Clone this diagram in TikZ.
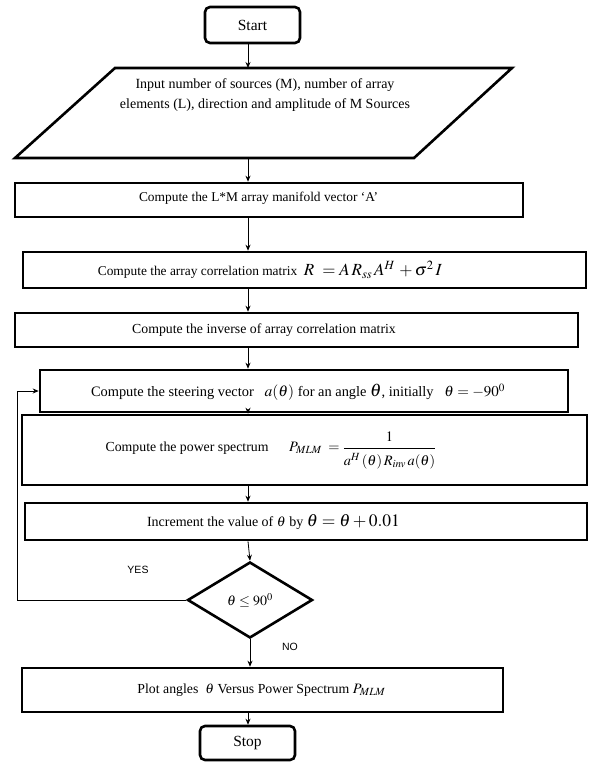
\documentclass[tikz,border=0pt]{standalone}
\usepackage{mathptmx}
\usepackage[no-math]{fontspec}
\setmainfont{Liberation Serif}
\newfontfamily\yesfont{Liberation Sans}
\usetikzlibrary{shapes.geometric,arrows.meta,calc}
\tikzset{
  box/.style={draw, line width=2.6pt, rectangle, inner sep=0pt},
  txt/.style={inner sep=1pt, align=center, font=\fontsize{13.8}{17}\selectfont},
  term/.style={box, rounded corners=5pt, minimum width=95pt, font=\fontsize{15.5}{18}\selectfont},
  arr/.style={-{Stealth[length=6pt,width=5pt]}, line width=0.8pt},
  lbl/.style={font=\yesfont\fontsize{10.5}{12}\selectfont}
}
\newcommand{\fs}[1]{\fontsize{#1}{#1}\selectfont}
\begin{document}
\begin{tikzpicture}[x=1pt,y=-1pt]
\useasboundingbox[fill=white] (0,0) rectangle (589,763);
\coordinate (main) at (248,0);
\node[term, minimum height=36pt] (start) at (252.5,25) {Start};
\coordinate (inpT) at (248,68);
\coordinate (inpB) at (248,158);
\draw[line width=2.6pt, line join=miter] (115,68) -- (512,68) -- (414,158) -- (15,158) -- cycle;
\node[align=center, font=\fontsize{14}{20}\selectfont] (inp) at (265,95) {Input number of sources (M), number of array\\elements (L), direction and amplitude of M Sources};
% boxes
\node[box, minimum width=508pt, minimum height=34pt] (ba) at (269,200) {};
\node[box, minimum width=563pt, minimum height=36pt] (br) at (304.5,270) {};
\node[box, minimum width=563pt, minimum height=34pt] (binv) at (296.5,330) {};
\node[box, minimum width=528pt, minimum height=42pt] (bst) at (304,391) {};
\node[box, minimum width=565pt, minimum height=70pt] (bp) at (304.5,450) {};
\node[box, minimum width=562pt, minimum height=37pt] (binc) at (306,521.5) {};
\node[box, minimum width=481pt, minimum height=44pt] (bplot) at (262.5,690) {};
% texts
\node[txt, font=\fontsize{13.4}{17}\selectfont] (tba) at (258.5,198) {Compute the L*M array manifold vector `A'};
\node[txt, font=\fontsize{13.4}{17}\selectfont] (tbr) at (270,270) {Compute the array correlation matrix\ \ {\fs{17}$R\ = A\,R_{ss}\,A^{H}\,+\sigma^{2}\,I$}};
\node[txt] (tbinv) at (264,330) {Compute the inverse of array correlation matrix};
\node[txt, font=\fontsize{14.4}{17}\selectfont] (tbst) at (298,392) {Compute the steering vector\ \ \ {\fs{15.5}$a(\theta)$} for an angle {\fs{18}$\theta$}, initially\ \ \ {\fs{15}$\theta=-90^{0}$}};
\node[txt] (tbp) at (271,450) {Compute the power spectrum\quad\ \ {\Large$P_{MLM}\;=\displaystyle\frac{1\rule[-5pt]{0pt}{0pt}}{\rule{0pt}{15pt}a^{H}\,(\theta)\,R_{inv}\,a(\theta)}$}};
\node[txt, font=\fontsize{14}{17}\selectfont] (tbinc) at (273.5,522) {Increment the value of $\theta$ by {\fs{17.5}$\theta=\theta+0.01$}};
\node[txt] (tbplot) at (261.5,690) {Plot angles\ \ $\theta$\ Versus Power Spectrum {\Large$P_{MLM}$}};
\node[draw, line width=2.6pt, diamond, minimum width=125pt, minimum height=76pt, inner sep=0pt, font=\fontsize{14}{17}\selectfont] (dec) at (250,600) {$\theta\le 90^{0}$};
\node[term, minimum height=34pt] (stop) at (247.5,743) {Stop};
\node[lbl] (yes) at (138,570) {YES};
\node[lbl] (no) at (290,647) {NO};
\coordinate (loopc) at (17,600);
\draw[arr] (start.south -| main) -- (inpT);
\draw[arr] (inpB) -- (ba.north -| main);
\draw[arr] (ba.south -| main) -- (br.north -| main);
\draw[arr] (br.south -| main) -- (binv.north -| main);
\draw[arr] (binv.south -| main) -- (bst.north -| main);
\draw[arr] (bst.south -| main) -- (bp.north -| main);
\draw[arr] (bp.south -| main) -- (binc.north -| main);
\draw[arr] (binc.south -| main) -- (dec.north);
\draw[arr] (dec.south) -- (bplot.north -| dec.south);
\draw[arr] (bplot.south -| main) -- (stop.north -| main);
\draw[arr] (dec.west) -- (loopc) |- (bst.west);
\end{tikzpicture}
\end{document}
